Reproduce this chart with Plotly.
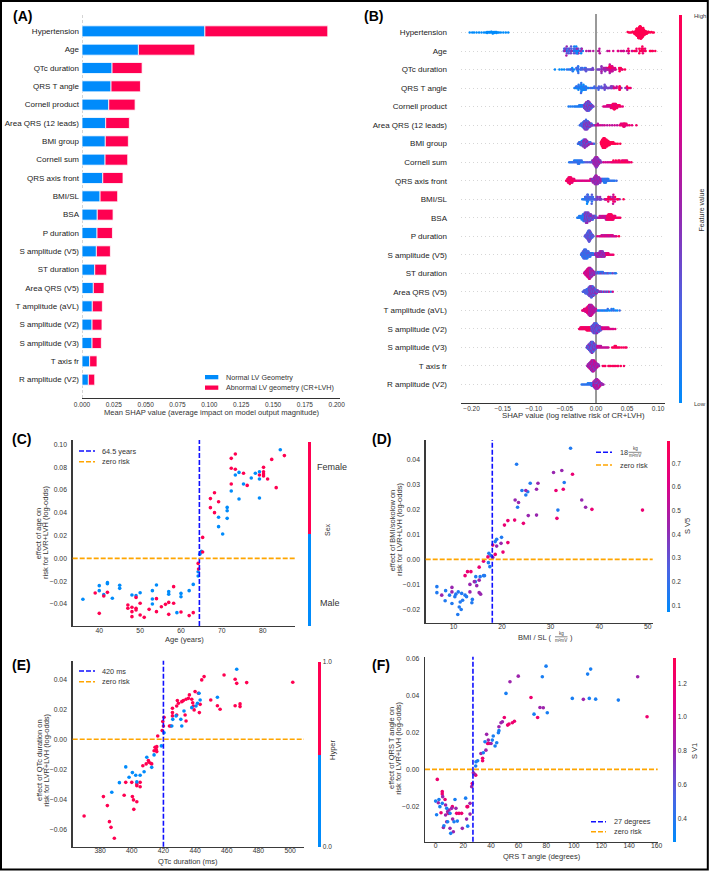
import numpy as np
import plotly.graph_objects as go

W, H = 709, 872
FONT = "Liberation Sans, Arial, Helvetica, sans-serif"
TXT = "#333333"
BLUE = "#008bfb"
RED = "#ff0051"
RED_BLUE = [[0.0, "rgb(0,139,251)"], [0.25, "rgb(75,99,227)"], [0.5, "rgb(154,37,174)"],
            [0.75, "rgb(224,0,134)"], [1.0, "rgb(255,0,81)"]]
BINARY = [[0, BLUE], [0.5, BLUE], [0.5, RED], [1, RED]]

# ---------------- Panel A data ----------------
features = ["Hypertension", "Age", "QTc duration", "QRS T angle", "Cornell product",
            "Area QRS (12 leads)", "BMI group", "Cornell sum", "QRS axis front", "BMI/SL",
            "BSA", "P duration", "S amplitude (V5)", "ST duration", "Area QRS (V5)",
            "T amplitude (aVL)", "S amplitude (V2)", "S amplitude (V3)", "T axis fr",
            "R amplitude (V2)"]
shap_normal = [0.0965, 0.0443, 0.0236, 0.0228, 0.0210, 0.0186, 0.0183, 0.0181, 0.0163, 0.0142,
               0.0120, 0.0118, 0.0113, 0.0100, 0.0089, 0.0081, 0.0079, 0.0079, 0.0060, 0.0050]
shap_abnormal = [0.0965, 0.0443, 0.0236, 0.0231, 0.0207, 0.0186, 0.0181, 0.0178, 0.0159, 0.0138,
                 0.0124, 0.0121, 0.0110, 0.0094, 0.0084, 0.0079, 0.0078, 0.0073, 0.0058, 0.0050]
a_ticks = [0.0, 0.025, 0.05, 0.075, 0.1, 0.125, 0.15, 0.175, 0.2]

# ---------------- Panel C data (age) ----------------
age_male = [36, 40, 40, 41.1, 42, 42, 43.2, 45, 45, 48, 49, 50, 53, 53, 53, 54, 57, 57, 59, 60,
            60, 62, 63, 64.2, 64.2, 64.6, 64.8, 65.0, 69.2, 69.2, 70.2, 71.3, 71.3, 71.3, 72.3, 73.3,
            74.2, 74.2, 75.3, 77.2, 78.2, 79.2, 79.2, 79.2, 84.3]
shap_age_male = [-0.0359, -0.0239, -0.0283, -0.0318, -0.0213, -0.0222, -0.0350, -0.0236, -0.0263,
                 -0.0321, -0.0327, -0.0301, -0.0283, -0.0356, -0.0400, -0.0234, -0.0292, -0.0315,
                 -0.0476, -0.0307, -0.0336, -0.0283, -0.0228, -0.0155, -0.0117, 0.0037, 0.0052,
                 0.0061, 0.0360, 0.0278, 0.0214, 0.0447, 0.0418, 0.0351, 0.0591, 0.0731, 0.0754,
                 0.0520, 0.0652, 0.0705, 0.0746, 0.0760, 0.0696, 0.0530, 0.0953]
age_female = [39, 40, 41.1, 42, 47, 47, 48, 48, 48, 49, 49, 49, 50, 50, 51, 52.2, 54, 54, 55.2, 56.2,
              57, 57, 58.2, 58.2, 60, 62, 63, 64.2, 64.3, 65.3, 65.3, 67.2, 67.2, 68.2, 68.2, 69.2,
              72.3, 72.3, 72.3, 73.3, 73.3, 75.3, 76.2, 79.2, 80.2, 80.2, 80.2, 80.2, 81.2, 82.2,
              83.3, 85.3]
shap_age_female = [-0.0304, -0.0482, -0.0330, -0.0298, -0.0409, -0.0438, -0.0429, -0.0467, -0.0511,
                   -0.0342, -0.0438, -0.0453, -0.0394, -0.0497, -0.0517, -0.0447, -0.0353, -0.0467,
                   -0.0424, -0.0403, -0.0386, -0.0491, -0.0248, -0.0394, -0.0470, -0.0502, -0.0476,
                   -0.0044, -0.0093, 0.0184, 0.0056, 0.0524, 0.0445, 0.0576, 0.0401, 0.0497, 0.0877,
                   0.0790, 0.0652, 0.0915, 0.0781, 0.0746, 0.0640, 0.0731, 0.0798, 0.0760, 0.0740,
                   0.0722, 0.0696, 0.0868, 0.0620, 0.0901]
age_threshold = 64.5

# ---------------- Panel D data (BMI/SL) ----------------
bmisl_low_x = [6.6, 6.6, 8.3, 8.4, 9.2, 9.7, 10.3, 10.5, 11.0, 10.9, 11.2, 11.4, 11.6, 11.7, 11.9,
               12.4, 12.7, 13.8, 13.9, 14.5, 14.6, 15.5, 16.2, 16.4, 17.2, 17.3, 17.5, 17.7, 18.6,
               18.9, 19.9, 23.0, 23.2, 24.1, 24.9, 25.3, 25.8, 31.5, 32.8, 34.1]
bmisl_low_y = [-0.0109, -0.0133, -0.0165, -0.0125, -0.0143, -0.0176, -0.0149, -0.0139, -0.0130,
               -0.0220, -0.0190, -0.0170, -0.0200, -0.0136, -0.0163, -0.0143, -0.0149, -0.0173,
               -0.0160, -0.0089, -0.0069, -0.0069, -0.0065, -0.0065, -0.0013, 0.0024, -0.0029,
               0.0015, 0.0071, 0.0080, 0.0088, 0.0380, 0.0208, 0.0275, 0.0257, 0.0270, 0.0304,
               0.0197, 0.0307, 0.0444]
bmisl_mid_x = [7.6, 9.7, 9.7, 13.4, 13.4, 14.3, 14.8, 15.3, 15.6, 15.3, 18.1, 18.9, 19.8, 22.7,
               23.4, 24.9, 25.4, 27.1, 27.4, 27.1, 30.6, 32.3, 36.4, 37.2]
bmisl_mid_y = [-0.0143, -0.0112, -0.0130, -0.0130, -0.0100, -0.0089, -0.0105, -0.0133, -0.0139,
               -0.0083, 0.0008, 0.0053, 0.0064, 0.0237, 0.0227, 0.0275, 0.0175, 0.0177, 0.0304,
               0.0280, 0.0347, 0.0355, 0.0237, 0.0208]
bmisl_high_x = [12.4, 12.9, 13.6, 15.3, 16.2, 17.1, 18.6, 18.1, 20.2, 20.5, 21.2, 21.2, 22.6, 24.4,
                31.1, 31.3, 32.6, 34.5, 38.5, 48.9]
bmisl_high_y = [-0.0065, -0.0049, -0.0049, -0.0031, -0.0007, 0.0010, 0.0020, 0.0057, 0.0029,
                0.0137, 0.0155, 0.0067, 0.0157, 0.0144, 0.0275, 0.0164, 0.0280, 0.0340, 0.0200,
                0.0197]
sv5_low, sv5_mid, sv5_high = 0.15, 0.43, 0.68
bmisl_threshold = 18

# ---------------- Panel E data (QTc) ----------------
qtc_hyper_x = [369.9, 382.1, 384.6, 385.9, 386.9, 389.0, 395.2, 396.2, 400.0, 400.4, 401.1, 401.3,
               403.2, 403.2, 403.2, 405.3, 405.3, 407.0, 409.1, 410.5, 410.9, 412.0, 412.6, 414.1,
               414.7, 415.4, 415.8, 415.8, 416.4, 419.2, 419.6, 420.0, 420.4, 423.8, 424.6, 425.7,
               425.7, 425.7, 428.4, 428.8, 429.5, 428.4, 431.6, 432.6, 433.7, 434.3, 434.3, 435.8,
               436.4, 437.9, 438.5, 438.9, 439.4, 440.0, 442.1, 442.7, 443.2, 444.2, 445.7, 449.9,
               454.1, 455.8, 458.3, 465.3, 466.3, 465.3, 468.4, 468.4, 472.6, 501.7]
qtc_hyper_y = [-0.0511, -0.0382, -0.0442, -0.0549, -0.0587, -0.0660, -0.0373, -0.0287, -0.0287,
               -0.0382, -0.0404, -0.0467, -0.0416, -0.0298, -0.0309, -0.0287, -0.0316, -0.0176,
               -0.0164, -0.0142, -0.0153, -0.0160, -0.0164, -0.0076, -0.0053, -0.0067, -0.0049,
               -0.0082, 0.0022, 0.0058, 0.0118, 0.0089, 0.0147, 0.0089, 0.0089, 0.0156, 0.0178,
               0.0207, 0.0222, 0.0258, 0.0240, 0.0162, 0.0251, 0.0258, 0.0162, 0.0122, 0.0267,
               0.0273, 0.0296, 0.0267, 0.0244, 0.0222, 0.0196, 0.0318, 0.0307, 0.0178, 0.0233,
               0.0396, 0.0418, 0.0262, 0.0224, 0.0200, 0.0429, 0.0400, 0.0373, 0.0224, 0.0236,
               0.0218, 0.0378, 0.0380]
qtc_nohyper_x = [387.4, 392.2, 396.2, 398.3, 400.4, 402.5, 403.2, 405.3, 407.8, 409.5, 412.6, 414.1,
                 418.7, 420.4, 425.3, 425.9, 428.0, 431.0, 431.6, 433.0, 437.9, 440.6, 441.5, 442.5,
                 443.2, 454.1, 466.3]
qtc_nohyper_y = [-0.0353, -0.0289, -0.0184, -0.0253, -0.0222, -0.0240, -0.0284, -0.0240, -0.0216,
                 -0.0120, -0.0187, -0.0104, -0.0044, 0.0044, 0.0089, 0.0133, 0.0156, 0.0133, 0.0089,
                 0.0189, 0.0211, 0.0222, 0.0240, 0.0307, 0.0262, 0.0280, 0.0467]
qtc_threshold = 420

# ---------------- Panel F data (QRS T angle) ----------------
qrst_red_x = [1.2, 3.9, 4.8, 4.8, 6.8, 9.2, 12.1, 15.2, 16.9, 18.8, 22.7, 23.2, 26.5, 29.0, 34.0,
              34.0, 37.6, 38.6, 49.7, 52.1, 53.1, 55.5, 57.0, 69.0, 73.8, 153.0]
qrst_red_y = [-0.0054, -0.0234, -0.0120, -0.0133, -0.0162, -0.0237, -0.0201, -0.0237, -0.0237,
              -0.0237, -0.0201, -0.0201, -0.0076, -0.0031, 0.0047, 0.0060, 0.0140, 0.0140, 0.0280,
              0.0239, 0.0245, 0.0252, 0.0260, 0.0388, 0.0280, 0.0284]
qrst_purple_x = [1.9, 5.1, 5.6, 7.2, 7.2, 8.0, 8.7, 9.7, 10.4, 11.6, 12.3, 12.8, 14.7, 19.3, 22.4,
                 24.9, 24.9, 26.1, 27.3, 28.0, 32.8, 36.4, 36.9, 38.1, 40.1, 45.8, 47.3, 48.3, 53.8,
                 59.8, 75.5, 77.9, 106.9, 146.2]
qrst_purple_y = [-0.0180, -0.0147, -0.0313, -0.0192, -0.0246, -0.0282, -0.0228, -0.0219, -0.0318,
                 -0.0210, -0.0268, -0.0336, -0.0210, -0.0318, -0.0268, -0.0183, -0.0241, -0.0093,
                 -0.0018, -0.0025, 0.0086, 0.0104, 0.0189, 0.0158, 0.0140, 0.0230, 0.0252, 0.0257,
                 0.0473, 0.0503, 0.0334, 0.0333, 0.0378, 0.0500]
qrst_blue_x = [0.0, 0.7, 2.4, 3.1, 4.8, 6.0, 8.0, 8.7, 10.4, 10.9, 13.3, 14.0, 15.7, 21.7, 23.2,
               29.0, 29.2, 30.4, 34.5, 35.7, 41.0, 41.7, 43.0, 44.2, 45.4, 45.8, 50.9, 71.2, 77.2,
               79.9, 80.8, 98.9, 110.0, 111.2, 112.2, 115.8, 132.2]
qrst_blue_y = [-0.0171, -0.0245, -0.0162, -0.0201, -0.0183, -0.0304, -0.0210, -0.0282, -0.0237,
               -0.0345, -0.0282, -0.0162, -0.0279, -0.0155, -0.0306, 0.0018, 0.0041, 0.0047, 0.0090,
               0.0149, 0.0158, 0.0180, 0.0126, 0.0144, 0.0198, 0.0209, 0.0410, 0.0298, 0.0500,
               0.0557, 0.0306, 0.0383, 0.0514, 0.0383, 0.0541, 0.0379, 0.0374]
sv1_red, sv1_purple, sv1_blue = 1.2, 0.82, 0.35
qrst_threshold = 27

# ---------------- Panel B data ----------------
# each group: (colour level(s) 0-10, [(SHAP value in 1e-3, number of points), ...])
hyp_groups = [
    (0, [(-203, 1), (-199, 1), (-196, 1), (-192, 1), (-188, 1), (-184, 1), (-180, 1), (-177, 1),
         (-175, 2), (-172, 2), (-170, 2), (-168, 2), (-166, 3), (-164, 3), (-162, 2), (-160, 2),
         (-158, 1), (-156, 1), (-153, 1), (-149, 1), (-145, 1), (-141, 1)]),
    (10, [(51, 1), (53, 1), (55, 1), (57, 1), (59, 2), (61, 2), (62, 2), (63, 3), (64, 4), (65, 5),
          (66, 6), (67, 7), (68, 8), (69, 9), (70, 10), (71, 10), (72, 10), (73, 9), (74, 8),
          (75, 7), (76, 6), (77, 5), (78, 4), (79, 3), (80, 3), (81, 2), (82, 2), (83, 2), (84, 1),
          (85, 1), (87, 1), (89, 1), (91, 1), (93, 1)])]
cornell_prod_groups = [
    (1, [(-44, 1), (-41, 1), (-38, 1), (-35, 1), (-33, 1), (-31, 1), (-29, 1), (-27, 2), (-25, 2),
         (-23, 2), (-21, 2)]),
    ((2, 4, 5), [(-19, 3), (-18, 4), (-17, 5), (-16, 6), (-15, 7), (-14, 7), (-13, 8), (-12, 8),
                 (-11, 7), (-10, 6), (-9, 5), (-8, 4), (-7, 3), (-6, 2), (-5, 1), (-4, 1)]),
    ((7, 8), [(12, 1), (14, 1), (16, 1), (18, 2), (20, 2), (22, 2), (24, 3)]),
    ((9, 8, 10), [(26, 3), (27, 4), (28, 4), (29, 5), (30, 5), (31, 4), (32, 4), (33, 3), (34, 3),
                  (36, 2), (38, 2), (40, 1), (43, 1)])]
area_qrs12_groups = [
    ((1, 3), [(-26, 1), (-25, 1), (-24, 2), (-23, 2), (-22, 3), (-21, 4), (-20, 5)]),
    ((2, 4, 5), [(-19, 6), (-18, 7), (-17, 7), (-16, 8), (-15, 7), (-14, 7), (-13, 6), (-12, 5),
                 (-11, 4), (-10, 3), (-9, 3), (-8, 2), (-7, 2), (-6, 1), (-5, 1), (-3, 1)]),
    ((6, 7), [(-1, 1), (1, 1), (3, 2), (5, 1), (8, 1), (11, 1), (14, 1), (18, 1), (22, 1), (26, 1),
              (30, 1), (34, 1)]),
    ((8, 9), [(38, 1), (40, 2), (42, 2), (44, 3), (45, 3), (46, 3), (47, 2), (49, 2), (51, 1),
              (54, 1), (58, 1), (65, 1)])]
bmi_group_groups = [
    ((0, 4), [(-29, 1), (-28, 1), (-27, 2), (-26, 2), (-25, 3), (-24, 3), (-23, 4), (-22, 4),
              (-21, 5)]),
    ((5, 2, 5), [(-20, 6), (-19, 6), (-18, 7), (-17, 6), (-16, 6), (-15, 5), (-14, 4), (-13, 3),
                 (-12, 3), (-11, 2), (-9, 2), (-7, 1), (-5, 1), (-3, 1)]),
    (10, [(8, 2), (9, 4), (10, 6), (11, 7), (12, 8), (13, 8), (14, 8), (15, 7), (16, 6), (17, 6),
          (18, 5), (19, 4), (20, 4), (21, 3), (22, 3), (24, 2), (26, 2), (28, 2), (30, 1), (32, 1),
          (35, 1), (39, 1)])]
cornell_sum_groups = [
    ((1, 2), [(-43, 1), (-41, 1), (-39, 1), (-37, 1), (-35, 2), (-33, 2), (-31, 2), (-29, 3),
              (-27, 3), (-25, 2), (-23, 2), (-21, 1), (-19, 1)]),
    (3, [(-16, 1), (-13, 1), (-10, 1), (-8, 1), (-6, 2)]),
    ((4, 5, 6), [(-5, 2), (-4, 3), (-3, 4), (-2, 5), (-1, 6), (0, 7), (1, 7), (2, 6), (3, 5), (4, 4),
                 (5, 3), (6, 2), (7, 2), (8, 1), (9, 1)]),
    (7, [(12, 1), (15, 1), (18, 1), (21, 1)]),
    ((8, 9, 10), [(24, 1), (26, 1), (28, 2), (30, 1), (32, 2), (34, 1), (36, 2), (38, 2), (40, 1),
                  (42, 2), (44, 2), (46, 2), (48, 2), (50, 2), (52, 1), (54, 1), (57, 1)])]
qrs_axis_groups = [
    ((9, 10, 8), [(-48, 1), (-47, 1), (-46, 2), (-45, 3), (-44, 4), (-43, 4), (-42, 5), (-41, 4),
                  (-40, 4), (-39, 3), (-38, 3), (-37, 2), (-36, 2), (-35, 2), (-34, 1), (-33, 1),
                  (-31, 1)]),
    ((7, 8), [(-29, 1), (-27, 1), (-25, 1), (-23, 1), (-21, 1), (-19, 1), (-17, 1), (-15, 1),
              (-13, 1), (-11, 1), (-9, 2)]),
    ((5, 4, 6), [(-7, 2), (-5, 3), (-3, 4), (-2, 5), (-1, 6), (0, 6), (1, 6), (2, 5), (3, 5), (4, 4),
                 (5, 4), (6, 3), (7, 3), (8, 2), (9, 2), (10, 2)]),
    ((1, 2), [(11, 2), (12, 2), (13, 3), (14, 3), (15, 3), (16, 3), (17, 2), (18, 2), (19, 2),
              (20, 2), (22, 1), (24, 1), (26, 1), (28, 1), (30, 1), (33, 1)])]
bsa_groups = [
    (1, [(-30, 1), (-29, 1), (-27, 2), (-25, 2), (-23, 3), (-21, 4), (-20, 5), (-19, 5)]),
    ((2, 4, 5), [(-18, 6), (-17, 6), (-16, 7), (-15, 7), (-14, 7), (-13, 6), (-12, 6), (-11, 5),
                 (-10, 5), (-9, 4), (-8, 4), (-7, 3), (-6, 3), (-5, 3), (-4, 2), (-3, 2), (-2, 2),
                 (-1, 2), (0, 1), (1, 1), (2, 1)]),
    ((6, 7), [(4, 1), (6, 2), (8, 2), (10, 2), (12, 2), (14, 2), (16, 3), (17, 3)]),
    ((9, 8, 10), [(18, 3), (19, 3), (20, 4), (21, 4), (22, 4), (23, 4), (24, 4), (25, 4), (26, 3),
                  (27, 3), (28, 3), (29, 2), (30, 2), (31, 2), (33, 1), (35, 1), (37, 1), (39, 1)])]
p_dur_groups = [
    ((3, 4, 2), [(-18, 1), (-17, 2), (-16, 3), (-15, 4), (-14, 6), (-13, 8), (-12, 10), (-11, 11),
                 (-10, 10), (-9, 8), (-8, 6), (-7, 4), (-6, 3), (-5, 2), (-4, 1)]),
    ((7, 8, 6), [(2, 1), (5, 1), (7, 1), (9, 2), (11, 2), (13, 2), (15, 2), (17, 2), (19, 2), (21, 2),
                 (23, 2), (25, 2), (27, 2), (29, 1), (31, 1), (33, 1)]),
    (10, [(37, 1)])]
s_v5_groups = [
    ((1, 2, 3), [(-24, 1), (-23, 2), (-22, 3), (-21, 4), (-20, 5), (-19, 6), (-18, 6), (-17, 6),
                 (-16, 6), (-15, 5), (-14, 5), (-13, 4), (-12, 4), (-11, 3), (-10, 3), (-9, 3),
                 (-8, 2), (-7, 2), (-6, 2), (-5, 2), (-4, 1), (-3, 1), (-2, 1)]),
    ((5, 6, 4), [(-1, 2), (0, 2), (1, 3), (2, 3), (3, 3), (4, 3), (5, 3), (6, 4), (7, 4), (8, 4),
                 (9, 4), (10, 4), (11, 4), (12, 3), (13, 3), (14, 3), (15, 2), (16, 2)]),
    ((8, 9), [(17, 2), (18, 2), (19, 2), (20, 2), (22, 1), (24, 1), (26, 1), (28, 1)])]
st_dur_groups = [
    ((7, 6, 8), [(-19, 1), (-18, 2), (-17, 3), (-16, 4), (-15, 5), (-14, 6), (-13, 7), (-12, 8),
                 (-11, 9), (-10, 9)]),
    ((5, 6, 4), [(-9, 8), (-8, 7), (-7, 6), (-6, 5), (-5, 4), (-4, 3), (-3, 3), (-2, 2), (-1, 2)]),
    ((2, 1, 4), [(1, 1), (3, 2), (5, 2), (7, 2), (9, 2), (11, 2), (13, 1), (15, 1), (17, 1), (19, 1),
                 (21, 1), (24, 1), (27, 1), (30, 1), (32, 1)])]
area_v5_groups = [
    ((2, 3), [(-21, 1), (-20, 1), (-19, 2), (-18, 2), (-17, 3), (-16, 3), (-15, 4), (-14, 4),
              (-13, 5), (-12, 6)]),
    ((4, 5, 2), [(-11, 7), (-10, 8), (-9, 8), (-8, 9), (-7, 9), (-6, 8), (-5, 8), (-4, 7), (-3, 6),
                 (-2, 5), (-1, 4), (0, 3), (1, 3), (2, 2), (3, 2)]),
    ((1, 7), [(4, 1), (5, 1), (6, 1), (7, 1), (8, 1), (9, 1), (11, 1), (13, 1), (15, 1), (17, 1),
              (19, 1), (21, 1), (24, 1), (27, 1)])]
t_avl_groups = [
    ((8, 9, 7), [(-22, 1), (-21, 1), (-20, 1), (-19, 2), (-18, 2), (-17, 3), (-16, 3), (-15, 4),
                 (-14, 5), (-13, 6), (-12, 7)]),
    ((6, 7, 5), [(-11, 8), (-10, 9), (-9, 9), (-8, 9), (-7, 8), (-6, 7), (-5, 6), (-4, 5), (-3, 4),
                 (-2, 3), (-1, 2), (0, 2), (1, 1)]),
    ((1, 0, 2), [(3, 1), (5, 1), (7, 1), (9, 1), (11, 1), (13, 1), (15, 1), (17, 1), (19, 2), (22, 1),
                 (25, 2), (28, 2), (31, 1), (34, 1), (38, 1)])]
s_v2_groups = [
    ((9, 8, 10), [(-27, 1), (-26, 1), (-25, 2), (-24, 2), (-23, 2), (-22, 2), (-21, 2), (-20, 2),
                  (-19, 2), (-18, 2), (-17, 2), (-16, 2), (-15, 3), (-14, 3), (-13, 3), (-12, 3),
                  (-11, 3), (-10, 3), (-9, 3), (-8, 3)]),
    ((3, 5, 2), [(-7, 4), (-6, 5), (-5, 6), (-4, 7), (-3, 8), (-2, 8), (-1, 8), (0, 8), (1, 8), (2, 7),
                 (3, 6), (4, 5), (5, 5), (6, 4), (7, 3), (8, 3), (9, 2)]),
    ((8, 7), [(10, 2), (12, 2), (14, 2), (16, 2), (18, 2), (20, 2), (22, 1), (24, 1), (26, 1),
              (28, 1), (31, 1)])]
s_v3_groups = [
    ((2, 3, 5), [(-15, 1), (-14, 2), (-13, 3), (-12, 4), (-11, 5), (-10, 6), (-9, 7), (-8, 8),
                 (-7, 9), (-6, 9), (-5, 8), (-4, 7), (-3, 6), (-2, 5), (-1, 4), (0, 3), (1, 2)]),
    ((6, 7), [(2, 2), (4, 2), (6, 2), (8, 2), (10, 1), (12, 1), (14, 1), (16, 1), (18, 1), (20, 1)]),
    ((9, 10), [(26, 1), (28, 1), (30, 2), (32, 2), (34, 1), (36, 1), (38, 1), (41, 1), (44, 1),
               (47, 1), (49, 1)])]
t_axis_groups = [
    ((5, 6, 4, 7), [(-14, 1), (-13, 2), (-12, 3), (-11, 4), (-10, 5), (-9, 6), (-8, 7), (-7, 8),
                    (-6, 9), (-5, 9), (-4, 9), (-3, 8), (-2, 7), (-1, 6), (0, 5), (1, 4), (2, 3),
                    (3, 2), (4, 2), (5, 1)]),
    ((9, 10), [(11, 1), (13, 1), (15, 1), (20, 1), (22, 1), (24, 1), (27, 1), (29, 1), (31, 1),
               (34, 1), (36, 1), (40, 1), (45, 1)])]
r_v2_groups = [
    ((1, 2), [(-23, 1), (-21, 1), (-19, 1), (-17, 1), (-15, 1), (-13, 2), (-11, 2), (-9, 2), (-8, 2),
              (-7, 3), (-6, 3), (-5, 3)]),
    ((6, 5, 7, 3), [(-4, 4), (-3, 5), (-2, 6), (-1, 7), (0, 8), (1, 8), (2, 8), (3, 7), (4, 6),
                    (5, 5), (6, 4), (7, 3), (8, 2), (9, 2), (10, 1), (11, 1), (12, 1)])]


# ---------------- helpers ----------------
def X(p):
    return p / W


def Y(p):
    return 1 - p / H


def from_groups(groups):
    s, f = [], []
    for levels, pairs in groups:
        lv = levels if isinstance(levels, tuple) else (levels,)
        k = 0
        for v, n in pairs:
            for _ in range(n):
                s.append(v / 1000)
                f.append(lv[k % len(lv)] / 10)
                k += 1
    return np.array(s), np.array(f)


def norm_feat(v):
    v = np.asarray(v, float)
    lo, hi = np.percentile(v, 5), np.percentile(v, 95)
    return np.clip((v - lo) / (hi - lo), 0, 1)


def swarm(vals, row_height=0.4, nbins=100):
    vals = np.asarray(vals, float)
    n = len(vals)
    quant = np.round(nbins * (vals - vals.min()) / (vals.max() - vals.min() + 1e-8))
    mix = (np.arange(n) * 0.6180339887) % 1.0
    inds = np.lexsort((mix, quant))
    ys = np.zeros(n)
    layer, last = 0, None
    for ind in inds:
        if quant[ind] != last:
            layer = 0
        ys[ind] = np.ceil(layer / 2) * ((layer % 2) * 2 - 1)
        layer += 1
        last = quant[ind]
    ys *= 0.9 * (row_height / np.max(ys + 1))
    return ys


age_all = age_male + age_female
age_shap_all = shap_age_male + shap_age_female
qtc_all = qtc_hyper_x + qtc_nohyper_x
qtc_shap_all = qtc_hyper_y + qtc_nohyper_y
qrst_all = qrst_red_x + qrst_purple_x + qrst_blue_x
qrst_shap_all = qrst_red_y + qrst_purple_y + qrst_blue_y
bmisl_all = bmisl_low_x + bmisl_mid_x + bmisl_high_x
bmisl_shap_all = bmisl_low_y + bmisl_mid_y + bmisl_high_y

b_rows = [
    from_groups(hyp_groups),
    (np.array(age_shap_all), norm_feat(age_all)),
    (np.array(qtc_shap_all), norm_feat(qtc_all)),
    (np.array(qrst_shap_all), norm_feat(qrst_all)),
    from_groups(cornell_prod_groups),
    from_groups(area_qrs12_groups),
    from_groups(bmi_group_groups),
    from_groups(cornell_sum_groups),
    from_groups(qrs_axis_groups),
    (np.array(bmisl_shap_all), norm_feat(bmisl_all)),
    from_groups(bsa_groups),
    from_groups(p_dur_groups),
    from_groups(s_v5_groups),
    from_groups(st_dur_groups),
    from_groups(area_v5_groups),
    from_groups(t_avl_groups),
    from_groups(s_v2_groups),
    from_groups(s_v3_groups),
    from_groups(t_axis_groups),
    from_groups(r_v2_groups),
]

nf = len(features)
rows = [nf - 1 - i for i in range(nf)]

fig = go.Figure()

# ---------------- Panel A ----------------
fig.add_trace(go.Bar(x=shap_normal, y=rows, orientation="h", width=0.6,
                     marker=dict(color=BLUE, line=dict(color="white", width=0.8)),
                     xaxis="x", yaxis="y", showlegend=False, hoverinfo="skip"))
fig.add_trace(go.Bar(x=shap_abnormal, y=rows, base=shap_normal, orientation="h", width=0.6,
                     marker=dict(color=RED, line=dict(color="white", width=0.8)),
                     xaxis="x", yaxis="y", showlegend=False, hoverinfo="skip"))

# ---------------- Panel B ----------------
bx, by, bc = [], [], []
for i, (s, f) in enumerate(b_rows):
    offs = swarm(s)
    bx += list(s)
    by += list(rows[i] + offs)
    bc += list(f)
fig.add_trace(go.Scatter(
    x=bx, y=by, mode="markers", xaxis="x2", yaxis="y2", showlegend=False, hoverinfo="skip",
    marker=dict(size=2.5, color=bc, colorscale=RED_BLUE, cmin=0, cmax=1, line=dict(width=0),
                showscale=True,
                colorbar=dict(x=X(679), xanchor="left", xpad=0, y=Y(209), yanchor="middle",
                              len=388 / H, lenmode="fraction", thickness=3, outlinewidth=0,
                              showticklabels=False, ticks="", ypad=0))))

# ---------------- Panel C ----------------
sex = [0] * len(age_male) + [1] * len(age_female)
fig.add_trace(go.Scatter(
    x=age_all, y=age_shap_all, mode="markers", xaxis="x3", yaxis="y3", showlegend=False,
    hoverinfo="skip",
    marker=dict(size=3.6, color=sex, colorscale=BINARY, cmin=0, cmax=1, line=dict(width=0),
                showscale=True,
                colorbar=dict(x=X(308), xanchor="left", xpad=0, y=Y(533.9), yanchor="middle",
                              len=184.3 / H, lenmode="fraction", thickness=3, outlinewidth=0,
                              showticklabels=False, ticks="", ypad=0))))

# ---------------- Panel D ----------------
sv5 = [sv5_low] * len(bmisl_low_x) + [sv5_mid] * len(bmisl_mid_x) + [sv5_high] * len(bmisl_high_x)
fig.add_trace(go.Scatter(
    x=bmisl_all, y=bmisl_shap_all, mode="markers", xaxis="x4", yaxis="y4", showlegend=False,
    hoverinfo="skip",
    marker=dict(size=3.6, color=sv5, colorscale=RED_BLUE, cmin=0.072, cmax=0.796,
                line=dict(width=0), showscale=True,
                colorbar=dict(x=X(667), xanchor="left", xpad=0, y=Y(526.4), yanchor="middle",
                              len=171.3 / H, lenmode="fraction", thickness=3, outlinewidth=0,
                              tickvals=[0.1, 0.2, 0.3, 0.4, 0.5, 0.6, 0.7], tickformat=".1f",
                              ticks="", ypad=0,
                              tickfont=dict(size=6.5, color=TXT, family=FONT)))))

# ---------------- Panel E ----------------
hyper = [1] * len(qtc_hyper_x) + [0] * len(qtc_nohyper_x)
fig.add_trace(go.Scatter(
    x=qtc_all, y=qtc_shap_all, mode="markers", xaxis="x5", yaxis="y5", showlegend=False,
    hoverinfo="skip",
    marker=dict(size=3.6, color=hyper, colorscale=BINARY, cmin=0, cmax=1, line=dict(width=0),
                showscale=True,
                colorbar=dict(x=X(318), xanchor="left", xpad=0, y=Y(754.2), yanchor="middle",
                              len=185 / H, lenmode="fraction", thickness=3, outlinewidth=0,
                              tickvals=[0, 1], ticktext=["0.0", "1.0"], ticks="", ypad=0,
                              tickfont=dict(size=6.5, color=TXT, family=FONT)))))

# ---------------- Panel F ----------------
sv1 = [sv1_red] * len(qrst_red_x) + [sv1_purple] * len(qrst_purple_x) + [sv1_blue] * len(qrst_blue_x)
fig.add_trace(go.Scatter(
    x=qrst_all, y=qrst_shap_all, mode="markers", xaxis="x6", yaxis="y6", showlegend=False,
    hoverinfo="skip",
    marker=dict(size=3.6, color=sv1, colorscale=RED_BLUE, cmin=0.262, cmax=1.354,
                line=dict(width=0), showscale=True,
                colorbar=dict(x=X(673), xanchor="left", xpad=0, y=Y(749.5), yanchor="middle",
                              len=184.4 / H, lenmode="fraction", thickness=3, outlinewidth=0,
                              tickvals=[0.4, 0.6, 0.8, 1.0, 1.2], tickformat=".1f", ticks="",
                              ypad=0, tickfont=dict(size=6.5, color=TXT, family=FONT)))))

# ---------------- axes ----------------
tf = dict(size=6.8, color=TXT, family=FONT)
base = dict(showgrid=False, zeroline=False, ticks="", automargin=False, tickfont=tf)
spine = dict(showline=True, linecolor="#3a3a3a", linewidth=1.4)

layout_axes = dict(
    xaxis=dict(base, domain=[X(82), X(340)], range=[0, 0.2026], anchor="y", tickvals=a_ticks,
               tickformat=".3f", showline=True, linecolor="#333333", linewidth=1,
               ticklabelstandoff=0, tickfont=dict(size=6.5, color=TXT, family=FONT)),
    yaxis=dict(base, domain=[Y(398), Y(13)], range=[-1, 20], anchor="x", tickvals=rows,
               ticktext=features, ticklabelstandoff=2,
               tickfont=dict(size=8, color="#222222", family=FONT)),
    xaxis2=dict(base, domain=[X(461), X(665)], range=[-0.217, 0.111], anchor="y2",
                tickvals=[-0.2, -0.15, -0.1, -0.05, 0, 0.05, 0.1], tickformat=".2f",
                showline=True, linecolor="#333333", linewidth=1, zeroline=True,
                zerolinecolor="#999999", zerolinewidth=1.5, ticklabelstandoff=-1,
                tickfont=dict(size=6.5, color=TXT, family=FONT)),
    yaxis2=dict(base, domain=[Y(403), Y(14)], range=[-1, 20], anchor="x2", tickvals=rows,
                ticktext=features, showgrid=True, gridcolor="#cccccc", griddash="1px,3px",
                gridwidth=0.8, ticklabelstandoff=13,
                tickfont=dict(size=8, color="#222222", family=FONT)),
    xaxis3=dict(base, **spine, domain=[X(72.7), X(295)], range=[33.5, 87.9], anchor="y3",
                tickvals=[40, 50, 60, 70, 80], ticklabelstandoff=-3),
    yaxis3=dict(base, **spine, domain=[Y(626), Y(440)], range=[-0.0593, 0.1038], anchor="x3",
                tickvals=[-0.04, -0.02, 0, 0.02, 0.04, 0.06, 0.08, 0.10], tickformat=".2f",
                ticklabelstandoff=3),
    xaxis4=dict(base, **spine, domain=[X(425.7), X(652.7)], range=[4.3, 51.0], anchor="y4",
                tickvals=[10, 20, 30, 40, 50], ticklabelstandoff=-3),
    yaxis4=dict(base, **spine, domain=[Y(622.7), Y(440)], range=[-0.0253, 0.0477], anchor="x4",
                tickvals=[-0.02, -0.01, 0, 0.01, 0.02, 0.03, 0.04], tickformat=".2f",
                ticklabelstandoff=3),
    xaxis5=dict(base, **spine, domain=[X(72.7), X(304)], range=[362.7, 508.8], anchor="y5",
                tickvals=[380, 400, 420, 440, 460, 480, 500], ticklabelstandoff=-3),
    yaxis5=dict(base, **spine, domain=[Y(846.7), Y(660.7)], range=[-0.0716, 0.0524], anchor="x5",
                tickvals=[-0.06, -0.04, -0.02, 0, 0.02, 0.04], tickformat=".2f",
                ticklabelstandoff=3),
    xaxis6=dict(base, **spine, domain=[X(425), X(657.7)], range=[-7.7, 160.7], anchor="y6",
                tickvals=[0, 20, 40, 60, 80, 100, 120, 140, 160], ticklabelstandoff=-3),
    yaxis6=dict(base, **spine, domain=[Y(841.7), Y(656.7)], range=[-0.039, 0.0608], anchor="x6",
                tickvals=[-0.02, 0, 0.02, 0.04, 0.06], tickformat=".2f", ticklabelstandoff=3),
)

# ---------------- shapes ----------------
shapes = []
shapes.append(dict(type="rect", xref="paper", yref="paper", x0=X(1), x1=X(707.8), y0=Y(869.5),
                   y1=Y(1), line=dict(color="black", width=2), fillcolor="rgba(0,0,0,0)"))
shapes.append(dict(type="line", xref="x", yref="y domain", x0=0, x1=0, y0=0, y1=1, layer="below",
                   line=dict(color="#aaaaaa", width=1, dash="3px,2px")))
shapes.append(dict(type="rect", xref="paper", yref="paper", x0=X(205), x1=X(218.3), y0=Y(379.3),
                   y1=Y(375), line=dict(width=0), fillcolor=BLUE))
shapes.append(dict(type="rect", xref="paper", yref="paper", x0=X(205), x1=X(218.3), y0=Y(389.8),
                   y1=Y(385.5), line=dict(width=0), fillcolor=RED))

THR = dict(color="#1010ff", width=1.6, dash="5px,2px")
ZR = dict(color="#ffa500", width=1.6, dash="5px,2px")
for ax, thr in (("3", age_threshold), ("4", bmisl_threshold), ("5", qtc_threshold),
                ("6", qrst_threshold)):
    shapes.append(dict(type="line", xref="x" + ax, yref="y" + ax + " domain", x0=thr, x1=thr,
                       y0=0, y1=1, line=THR))
    shapes.append(dict(type="line", xref="x" + ax + " domain", yref="y" + ax, x0=0, x1=1,
                       y0=0, y1=0, line=ZR))


def leg_line(x0, x1, y, style):
    shapes.append(dict(type="line", xref="paper", yref="paper", x0=X(x0), x1=X(x1), y0=Y(y),
                       y1=Y(y), line=style))


leg_line(79, 95, 451, THR)
leg_line(79, 95, 461.7, ZR)
leg_line(596, 612, 452.3, THR)
leg_line(596, 612, 465, ZR)
leg_line(79, 95, 671, THR)
leg_line(79, 95, 681.7, ZR)
leg_line(591, 606, 821.7, THR)
leg_line(591, 606, 831.7, ZR)
leg_line(628.5, 641.5, 452.3, dict(color=TXT, width=0.6))
leg_line(555, 567.5, 636.8, dict(color=TXT, width=0.6))

# ---------------- annotations ----------------
anns = []


def ann(text, x, y, size, xa="center", ya="middle", angle=0, color=TXT, bold=False):
    if bold:
        text = "<b>" + text + "</b>"
    anns.append(dict(text=text, x=X(x), y=Y(y), xref="paper", yref="paper", showarrow=False,
                     xanchor=xa, yanchor=ya, textangle=angle,
                     font=dict(size=size, color=color, family=FONT)))


for lab, x, y in (("(A)", 22, 16), ("(B)", 374, 16), ("(C)", 21, 439), ("(D)", 381, 439),
                  ("(E)", 21, 665), ("(F)", 381, 665)):
    ann(lab, x, y, 14, color="black", bold=True)

ann("Mean SHAP value (average impact on model output magnitude)", 211.7, 412.5, 7.6)
ann("Normal LV Geometry", 224, 377.2, 7.2, xa="left")
ann("Abnormal LV geometry (CR+LVH)", 224, 387.7, 7.2, xa="left")
ann("SHAP value (log relative risk of CR+LVH)", 573.3, 415.5, 7.8)
ann("High", 691.5, 15.5, 6, xa="left")
ann("Low", 691.5, 404, 6, xa="left")
ann("Feature value", 700.5, 210, 7, angle=-90)
ann("Age (years)", 184, 639.5, 7.5)
ann("effect of age on", 38.3, 533, 7.5, angle=-90)
ann("risk for LVR+LVH (log-odds)", 45, 533, 7.5, angle=-90)
ann("64.5 years", 100, 451, 7.3, xa="left")
ann("zero risk", 100, 461.7, 7.3, xa="left")
ann("Female", 331.5, 466.7, 9)
ann("Male", 329.5, 602.7, 9)
ann("Sex", 327, 530, 7, angle=-90)
ann("BMI / SL (", 553.5, 637, 7.5, xa="right")
ann("kg", 561.2, 633.4, 4.6, color="#444444")
ann("m²mV", 561.2, 640.3, 4.6, color="#444444")
ann(")", 568, 637, 7.5, xa="left")
ann("effect of BMI/sokolow on", 392.3, 530, 7.5, angle=-90)
ann("risk for LVR+LVH (log-odds)", 399, 530, 7.5, angle=-90)
ann("18", 618, 452.7, 7.3, xa="left")
ann("kg", 635, 448.8, 4.6, color="#444444")
ann("m²mV", 635, 455.8, 4.6, color="#444444")
ann("zero risk", 618, 465, 7.3, xa="left")
ann("S V5", 687, 526, 7.5, angle=-90)
ann("QTc duration (ms)", 188, 861, 7.5)
ann("effect of QTc duration on", 39, 760, 7.5, angle=-90)
ann("risk for LVR+LVH (log-odds)", 45.8, 760, 7.5, angle=-90)
ann("420 ms", 100, 671, 7.3, xa="left")
ann("zero risk", 100, 681.7, 7.3, xa="left")
ann("Hyper", 332, 750, 7.5, angle=-90)
ann("QRS T angle (degrees)", 541.7, 856.3, 7.5)
ann("effect of QRS T angle on", 391, 748, 7.5, angle=-90)
ann("risk for LVR+LVH (log-odds)", 397.8, 748, 7.5, angle=-90)
ann("27 degrees", 612, 821.7, 7.3, xa="left")
ann("zero risk", 612, 831.7, 7.3, xa="left")
ann("S V1", 694, 751, 7.5, angle=-90)

fig.update_layout(
    width=W, height=H, margin=dict(l=0, r=0, t=0, b=0, pad=0),
    paper_bgcolor="white", plot_bgcolor="white", barmode="overlay",
    font=dict(family=FONT, color=TXT), showlegend=False,
    shapes=shapes, annotations=anns, **layout_axes)

fig.write_html("out.html", config={"displayModeBar": False, "staticPlot": True},
               post_script="document.body.style.margin='0px';"
                           "document.body.style.overflow='hidden';")
